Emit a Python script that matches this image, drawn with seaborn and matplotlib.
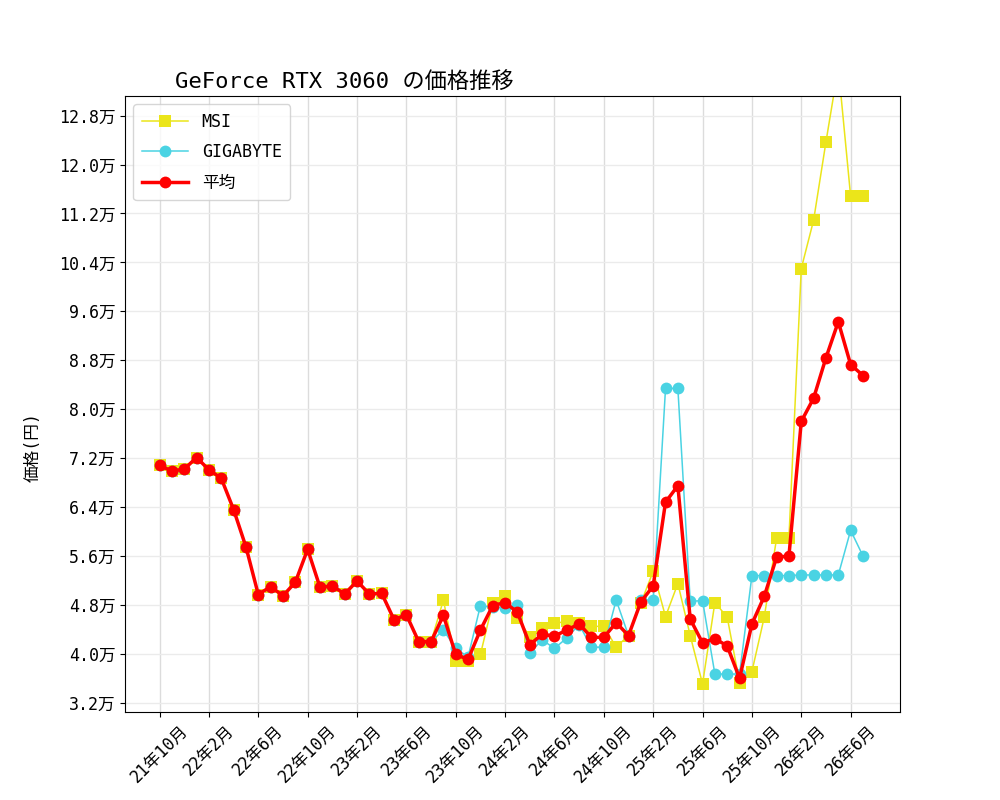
import matplotlib
matplotlib.use("Agg")
import matplotlib.pyplot as plt
import seaborn as sns
import pandas as pd
import numpy as np

# ============================================
# Data (monthly, 21年10月 -> 26年7月)
# ============================================
months = pd.date_range("2021-10-01", periods=58, freq="MS")

msi = [
    70800, 69900, 70200, 72100, 70100, 68700, 63600, 57500, 49700, 51000,
    49500, 51700, 57100, 50900, 51100, 49800, 51900, 49800, 49900, 45600,
    46400, 42000, 42000, 48800, 38800, 38800, 39900, 48300, 49400, 45900,
    42800, 44200, 45000, 45300, 45000, 44500, 44500, 41100, 43000, 48300,
    53500, 46100, 51500, 43000, 35100, 48400, 46000, 35300, 37100, 46000,
    58900, 58900, 103000, 110900, 123700, 135900, 114800, 114800,
]

gigabyte = [
    70800, 69900, 70200, 72100, 70100, 68700, 63600, 57500, 49700, 51000,
    49500, 51700, 57100, 50900, 51100, 49800, 51900, 49800, 49900, 45600,
    46400, 42000, 42000, 43900, 40900, 39500, 47900, 47600, 47500, 48000,
    40100, 42300, 40900, 42600, 44800, 41100, 41100, 48800, 43000, 48800,
    48800, 83400, 83400, 48600, 48700, 36700, 36700, 36700, 52800, 52800,
    52800, 52800, 52900, 52900, 52900, 52900, 60200, 56000,
]

average = [
    70800, 69900, 70200, 72100, 70100, 68700, 63600, 57500, 49700, 51000,
    49500, 51700, 57100, 50900, 51100, 49800, 51900, 49800, 49900, 45600,
    46400, 42000, 42000, 46300, 39900, 39100, 43900, 47900, 48400, 46800,
    41500, 43200, 42900, 43900, 44900, 42700, 42700, 45100, 43000, 48500,
    51100, 64800, 67500, 45700, 41800, 42500, 41300, 36000, 44900, 49400,
    55800, 56000, 78000, 81800, 88400, 94300, 87300, 85500,
]

tick_labels = [
    "21年10月", "22年2月", "22年6月", "22年10月", "23年2月", "23年6月",
    "23年10月", "24年2月", "24年6月", "24年10月", "25年2月", "25年6月",
    "25年10月", "26年2月", "26年6月",
]

yticks = [32000, 40000, 48000, 56000, 64000, 72000, 80000, 88000,
          96000, 104000, 112000, 120000, 128000]

df = pd.DataFrame({"pos": np.arange(len(months)), "MSI": msi,
                   "GIGABYTE": gigabyte, "平均": average})

# ============================================
# Plot
# ============================================
plt.rcParams["font.family"] = ["DejaVu Sans Mono", "Noto Sans CJK JP"]
plt.rcParams["font.size"] = 12

fig, ax = plt.subplots(figsize=(10, 8), dpi=100)

sns.lineplot(data=df, x="pos", y="MSI", ax=ax, color="#ebe51a", marker="s",
             markersize=8.5, markeredgewidth=0, linewidth=1.1, label="MSI")
sns.lineplot(data=df, x="pos", y="GIGABYTE", ax=ax, color="#4ad3e3", marker="o",
             markersize=8.5, markeredgewidth=0, linewidth=1.1, label="GIGABYTE")
sns.lineplot(data=df, x="pos", y="平均", ax=ax, color="#ff0000", marker="o",
             markersize=8.5, markeredgewidth=0, linewidth=2.5, label="平均")

ax.set_xticks(df["pos"][::4].values)
ax.set_xticklabels(tick_labels, rotation=45)
ax.set_xlim(-2.8, 60)

ax.set_yticks(yticks)
ax.set_yticklabels([f"{v / 10000:.1f}万" for v in yticks])
ax.set_ylim(30500, 131200)
ax.set_yticks(yticks, minor=True)
ax.tick_params(axis="y", which="minor", length=0)

# x: solid light lines, y: faint line with dotted overlay
ax.grid(True, axis="x", color="#dcdcdc", linewidth=1)
ax.grid(True, axis="y", color="#ebebeb", linewidth=1)
ax.grid(True, which="minor", axis="y", color="#b0b0b0", linestyle=":", linewidth=0.6)
ax.set_axisbelow(True)

ax.set_xlabel("")
ax.set_ylabel("価格(円)")
ax.yaxis.set_label_coords(-0.108, 0.43)
ax.set_title("GeForce RTX 3060 の価格推移", loc="left", x=0.065, fontsize=16)
ax.legend(loc="upper left", handlelength=2.8, labelspacing=0.75, borderpad=0.5)

plt.savefig("out.png", dpi=100)
